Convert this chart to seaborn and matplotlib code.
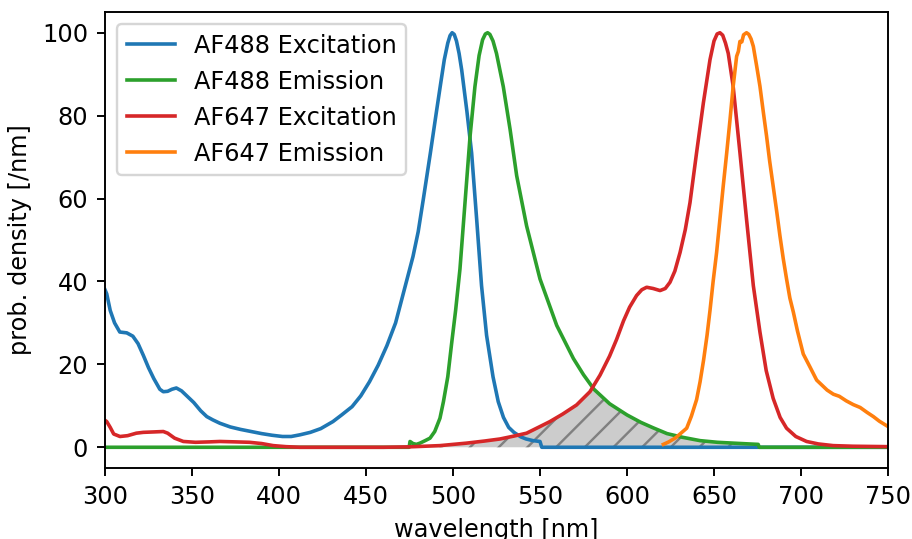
# plot.py
# AF488 / AF647 excitation and emission spectra with the spectral overlap hatched

import numpy as np
from matplotlib import pyplot as plt
import seaborn as sns

# spectra (wavelength in nm, prob. density scaled to peak 100)
ex488_wl = [300, 301, 303, 305.5, 308.5, 312.5, 316, 319, 322, 325, 328, 331.5, 333.5, 336,
            338.5, 341, 344, 347, 351, 355, 358.5, 362, 366, 372, 378, 384, 390, 396, 402,
            407, 412, 418, 424, 431, 436, 442, 447, 452, 457, 462, 467, 472, 477, 480, 483,
            487, 490.5, 493, 495, 497, 498.3, 499.5, 500.7, 502, 503.5, 505, 506.5, 508,
            510.7, 513.6, 516.4, 519.3, 523, 526, 529, 532, 535, 539, 542, 546, 550, 551, 750]
ex488 = [38, 37, 33, 30, 27.8, 27.6, 26.8, 25, 22.2, 19.2, 16.6, 14, 13.4, 13.5,
         14, 14.3, 13.6, 12.4, 10.8, 8.8, 7.4, 6.6, 5.8, 4.9, 4.3, 3.8, 3.3, 2.9, 2.6,
         2.6, 3.0, 3.6, 4.5, 6.2, 7.8, 9.8, 12.4, 15.8, 19.8, 24.5, 30, 38, 46, 52, 60,
         71, 81, 88, 93.5, 97.5, 99.3, 100, 99.6, 98, 95, 91, 86, 81,
         71, 55, 39, 27, 17, 11, 7.2, 4.8, 3.6, 2.5, 2.0, 1.6, 1.4, 0, 0]

em488_wl = [300, 474.8, 475.3, 477, 479, 481, 484, 486.8, 489.5, 492.5, 494.5, 497, 499.2,
            501.5, 504, 506.9, 509.8, 512.6, 515, 517, 518.6, 519.9, 521.2, 523, 525,
            528.9, 532.8, 536.6, 542.3, 550, 559.6, 569.2, 575, 581, 590, 600, 608, 615,
            623, 632, 642, 652, 661, 668, 675.4, 676, 750]
em488 = [0, 0, 1.4, 0.9, 0.7, 1.0, 1.6, 2.2, 3.8, 7, 11, 17, 25,
         33, 43, 59, 75, 87, 94.5, 98.3, 99.7, 100, 99.6, 98, 95,
         87, 76.7, 65.5, 53.4, 40.6, 29.4, 21.4, 17.5, 14, 10.5, 7.8, 6, 4.7,
         3.3, 2.4, 1.6, 1.2, 1.0, 0.85, 0.7, 0, 0]

ex647_wl = [300, 301, 303, 305, 308.6, 313, 318, 322, 328, 333.5, 336, 340, 345, 352, 360,
            366, 375, 383, 390, 396.7, 404, 412, 430, 460, 475, 492.5, 507.8, 518, 527, 535,
            542.3, 550, 555.7, 563, 571, 578.7, 584.5, 590, 594, 598, 601.5, 605.5, 608.5,
            611.3, 615, 619, 622, 624.7, 627.5, 630.5, 633.5, 636.2, 640, 643.9, 647.7,
            650, 651.8, 653.4, 655, 656.6, 658.2, 661, 664.9, 668.7, 672.6, 676.4, 680, 684,
            688, 691.7, 697, 703.2, 710, 718.5, 730, 750]
ex647 = [6.5, 6.2, 4.8, 3.2, 2.6, 2.8, 3.4, 3.6, 3.7, 3.8, 3.4, 2.2, 1.4, 1.2, 1.3,
         1.4, 1.3, 1.2, 0.9, 0.4, 0.15, 0, 0, 0, 0.1, 0.4, 1.0, 1.5, 2.0, 2.7,
         3.4, 5.0, 6.2, 8.0, 10.2, 13.4, 17.4, 22, 26, 30.5, 33.8, 36.6, 38,
         38.6, 38.3, 37.8, 38.3, 39.8, 42.5, 47, 52.5, 59, 71.1, 83.1, 93.5,
         98, 99.7, 100, 99.4, 97.5, 95, 87.1, 71.1, 55, 39, 27.8, 18.5, 11.8,
         7.2, 4.6, 2.6, 1.4, 0.8, 0.4, 0.25, 0.15]

em647_wl = [620.9, 624, 628, 631, 634.3, 637, 640, 642, 644, 646, 647.7, 649.5, 651.5, 653.4,
            655.3, 657.3, 659.2, 661, 663, 664, 664.9, 666, 667, 668.7, 670, 671.3, 672.6,
            674.5, 676.4, 678.3, 680.2, 682, 684, 686, 687.9, 689.8, 691.7, 693.6, 695.6,
            698, 701.3, 705, 709, 712, 715, 718.6, 722, 726, 730, 734, 738, 741.6, 745, 750]
em647 = [0.7, 1.3, 2.3, 3.4, 4.6, 7.5, 11.5, 15.8, 21, 27, 33, 40, 47, 55,
         63, 71, 79, 87, 94.3, 95.5, 97.9, 97.8, 99.5, 100, 99.6, 98.5, 96.7,
         92, 87.1, 81, 75.1, 69, 63, 57, 51, 45.5, 40.6, 36, 32.6,
         28, 22.5, 19.5, 16.2, 15, 13.8, 12.8, 12.3, 11.2, 10.3, 9.6, 8.4, 7.4, 6.3, 5]

series = [
    (ex488_wl, ex488, 'AF488 Excitation', 'tab:blue'),
    (em488_wl, em488, 'AF488 Emission', 'tab:green'),
    (ex647_wl, ex647, 'AF647 Excitation', 'tab:red'),
    (em647_wl, em647, 'AF647 Emission', 'tab:orange'),
]

dpi = 172.8
fig, ax = plt.subplots(figsize=(912/dpi, 539/dpi), dpi=dpi)
fig.subplots_adjust(left=105/912, right=888/912, top=1-12/539, bottom=1-468/539)

for wl, vals, name, col in series:
    sns.lineplot(x=wl, y=vals, ax=ax, color=col, label=name, linewidth=1.5)

# overlap of AF488 emission with AF647 excitation
grid = np.arange(475, 676, 0.25)
overlap = np.minimum(np.interp(grid, em488_wl, em488), np.interp(grid, ex647_wl, ex647))
ax.fill_between(grid, 0, overlap, facecolor='0.8', edgecolor='gray',
                hatch='//', linewidth=0, zorder=1)

ax.set_xlim(300, 750)
ax.set_ylim(-5, 105)
ax.set(xlabel='wavelength [nm]', ylabel='prob. density [/nm]')
ax.legend(loc='upper left')

fig.savefig('out.png', dpi=dpi)
